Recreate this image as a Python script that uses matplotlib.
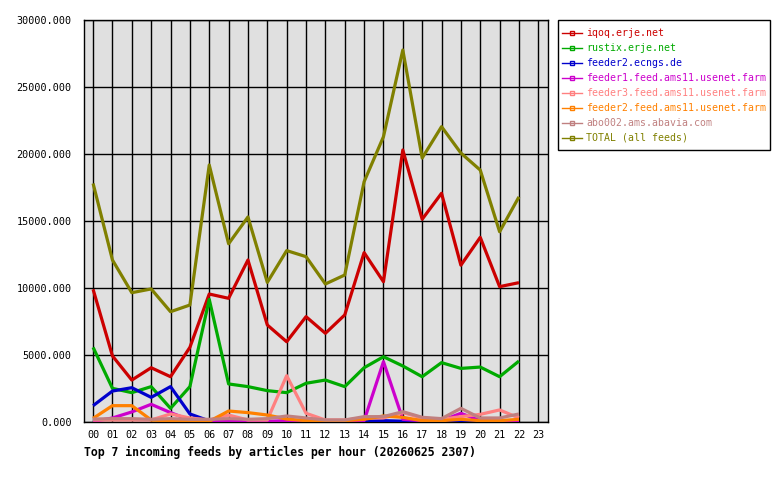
import matplotlib
matplotlib.use("Agg")
import matplotlib.pyplot as plt
from matplotlib.lines import Line2D
from matplotlib.patches import Rectangle

hours = list(range(23))
hour_labels = ["%02d" % h for h in range(24)]

iqoq = [9900, 4930, 3130, 4050, 3380, 5570, 9550, 9230, 12090, 7240, 5990, 7860,
        6620, 7990, 12640, 10470, 20300, 15130, 17070, 11700, 13780, 10100, 10400]
rustix = [5570, 2510, 2190, 2640, 1020, 2640, 9150, 2840, 2640, 2340, 2190, 2890,
          3130, 2640, 4050, 4870, 4180, 3380, 4430, 4000, 4100, 3380, 4550]
ecngs = [1220, 2310, 2560, 1840, 2640, 600, 80, 0, 0, 0, 0, 0,
         0, 0, 50, 100, 60, 0, 0, 0, 0, 0, 0]
feeder1 = [30, 300, 750, 1320, 700, 150, 50, 50, 50, 50, 100, 50,
           50, 50, 100, 4500, 200, 100, 100, 650, 100, 50, 50]
feeder3 = [150, 150, 150, 150, 600, 300, 150, 520, 150, 150, 3460, 650,
           150, 150, 300, 300, 700, 300, 200, 400, 570, 900, 300]
feeder2 = [270, 1220, 1220, 150, 80, 50, 50, 820, 700, 520, 220, 100,
           100, 100, 200, 450, 350, 100, 100, 200, 100, 100, 200]
abo002 = [220, 250, 250, 200, 250, 200, 200, 250, 200, 250, 450, 300,
          150, 150, 400, 400, 770, 350, 250, 1020, 300, 300, 600]
total = [17800, 12090, 9650, 9930, 8230, 8730, 19180, 13300, 15300, 10420, 12790, 12340,
         10300, 10970, 17930, 21290, 27760, 19700, 22040, 20070, 18800, 14200, 16800]

names = ["iqoq.erje.net", "rustix.erje.net", "feeder2.ecngs.de",
         "feeder1.feed.ams11.usenet.farm", "feeder3.feed.ams11.usenet.farm",
         "feeder2.feed.ams11.usenet.farm", "abo002.ams.abavia.com", "TOTAL (all feeds)"]
series = [iqoq, rustix, ecngs, feeder1, feeder3, feeder2, abo002, total]
colors = ["#cc0000", "#00aa00", "#0000cc", "#cc00cc", "#ff8080", "#ff8000", "#c08080", "#808000"]

mono = "DejaVu Sans Mono"

fig = plt.figure(figsize=(7.8, 4.8), dpi=100)
ax = fig.add_axes([84 / 780, 58 / 480, 464 / 780, 402 / 480])
ax.set_facecolor("#e0e0e0")

for vals, c in zip(series, colors):
    ax.plot(hours, vals, color=c, linewidth=2.3, solid_capstyle="butt", zorder=3)

ax.set_xlim(-0.47, 23.5)
ax.set_ylim(0, 30000)
ax.set_xticks(range(24))
ax.set_xticklabels(hour_labels)
ax.set_yticks(range(0, 30001, 5000))
ax.set_yticklabels(["%.3f" % v for v in range(0, 30001, 5000)])
ax.grid(True, color="black", linewidth=1, zorder=1)
ax.set_axisbelow(True)
ax.tick_params(length=0, labelsize=7.3)
ax.tick_params(axis="x", pad=6)
ax.tick_params(axis="y", pad=9)
for lab in ax.get_xticklabels() + ax.get_yticklabels():
    lab.set_fontfamily(mono)
for s in ax.spines.values():
    s.set_color("black")
    s.set_linewidth(1)

fig.text(84 / 780, 1 - 452 / 480, "Top 7 incoming feeds by articles per hour (20260625 2307)",
         fontfamily=mono, fontweight="bold", fontsize=8.3, va="center", ha="left")

# legend box drawn by hand so the padding matches
fig.patches.append(Rectangle((558 / 780, 1 - 150 / 480), 212 / 780, 130 / 480,
                             transform=fig.transFigure, facecolor="white",
                             edgecolor="black", linewidth=1))
handles = [Line2D([0], [0], color=c, linewidth=1.0, marker="s", markersize=2.5,
                  markerfacecolor="none", markeredgecolor=c) for c in colors]
leg = fig.legend(handles, names, loc="upper left", bbox_to_anchor=(558 / 780, 1 - 24 / 480),
                 prop={"family": mono, "size": 7.1}, labelcolor=colors, frameon=False,
                 borderaxespad=0, handlelength=2.0, handletextpad=0.4, labelspacing=0.5,
                 borderpad=0.45, numpoints=1)

fig.savefig("out.png", dpi=100)
